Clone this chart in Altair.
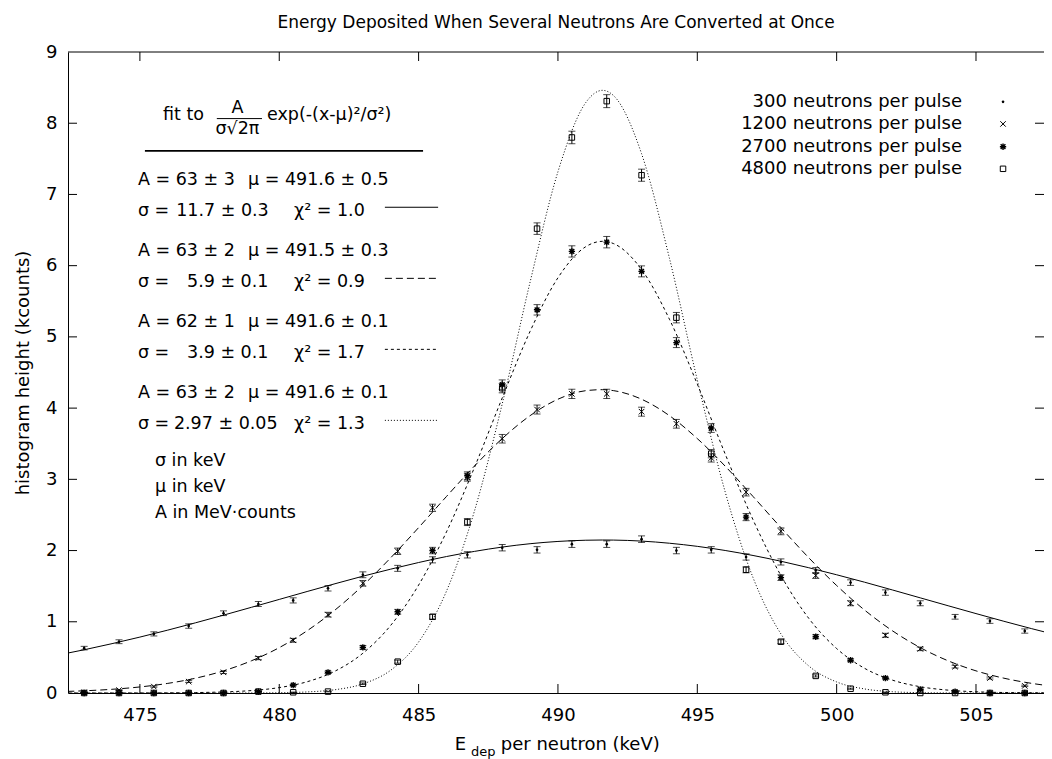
import altair as alt
import pandas as pd

FONT = "DejaVu Sans"
TITLE = "Energy Deposited When Several Neutrons Are Converted at Once"
Y_TITLE = "histogram height (kcounts)"
X_TITLE_PARTS = ["E", "dep", "per neutron (keV)"]

series_names = ["300", "1200", "2700", "4800"]
legend_labels = ["300 neutrons per pulse", "1200 neutrons per pulse",
                 "2700 neutrons per pulse", "4800 neutrons per pulse"]

# measured histogram points (kcounts)
x_pts = [473.0, 474.25, 475.5, 476.75, 478.0, 479.25, 480.5, 481.75, 483.0, 484.25,
         485.5, 486.75, 488.0, 489.25, 490.5, 491.75, 493.0, 494.25, 495.5, 496.75,
         498.0, 499.25, 500.5, 501.75, 503.0, 504.25, 505.5, 506.75]
y_300 = [0.63, 0.72, 0.83, 0.94, 1.12, 1.25, 1.30, 1.47, 1.66, 1.75, 1.87, 1.94, 2.04, 2.01,
         2.09, 2.09, 2.16, 2.00, 2.01, 1.91, 1.84, 1.72, 1.55, 1.41, 1.26, 1.07, 1.01, 0.87]
y_1200 = [0.01, 0.04, 0.09, 0.16, 0.29, 0.49, 0.74, 1.10, 1.54, 1.99, 2.60, 3.03, 3.57, 3.98,
          4.20, 4.20, 3.95, 3.78, 3.30, 2.82, 2.27, 1.65, 1.26, 0.81, 0.62, 0.37, 0.21, 0.10]
y_2700 = [0.0, 0.0, 0.0, 0.0, 0.0, 0.02, 0.11, 0.29, 0.64, 1.14, 2.00, 3.05, 4.33, 5.38,
          6.20, 6.33, 5.92, 4.92, 3.72, 2.47, 1.62, 0.79, 0.46, 0.21, 0.05, 0.02, 0.0, 0.0]
y_4800 = [0.0, 0.0, 0.0, 0.0, 0.0, 0.02, 0.01, 0.02, 0.13, 0.44, 1.07, 2.40, 4.28, 6.52,
          7.80, 8.31, 7.27, 5.27, 3.36, 1.73, 0.72, 0.24, 0.06, 0.01, 0.0, 0.0, 0.0, 0.0]
err_300 = [0.025, 0.027, 0.029, 0.031, 0.033, 0.035, 0.036, 0.038, 0.041, 0.042, 0.043, 0.044,
           0.045, 0.045, 0.046, 0.046, 0.046, 0.045, 0.045, 0.044, 0.043, 0.041, 0.039, 0.038,
           0.035, 0.033, 0.032, 0.030]
err_1200 = [0.003, 0.006, 0.009, 0.013, 0.017, 0.022, 0.027, 0.033, 0.039, 0.045, 0.051, 0.055,
            0.060, 0.063, 0.065, 0.065, 0.063, 0.061, 0.057, 0.053, 0.048, 0.041, 0.035, 0.028,
            0.025, 0.019, 0.014, 0.010]
err_2700 = [0.0, 0.0, 0.0, 0.0, 0.0, 0.004, 0.010, 0.017, 0.025, 0.034, 0.045, 0.055, 0.066,
            0.073, 0.079, 0.080, 0.077, 0.070, 0.061, 0.050, 0.040, 0.028, 0.021, 0.014, 0.007,
            0.004, 0.0, 0.0]
err_4800 = [0.0, 0.0, 0.0, 0.0, 0.0, 0.004, 0.003, 0.004, 0.011, 0.021, 0.033, 0.049, 0.065,
            0.081, 0.088, 0.091, 0.085, 0.073, 0.058, 0.042, 0.027, 0.015, 0.008, 0.003, 0.0,
            0.0, 0.0, 0.0]

# fitted curves
fit_x = [472, 473, 474, 475, 476, 477, 478, 479, 480, 481, 482, 483, 484, 485, 486, 487, 488,
         489, 490, 491, 491.6, 492, 493, 494, 495, 496, 497, 498, 499, 500, 501, 502, 503, 504,
         505, 506, 507, 508]
fit_300 = [0.528, 0.607, 0.693, 0.785, 0.883, 0.986, 1.093, 1.203, 1.314, 1.425, 1.534, 1.640,
           1.739, 1.832, 1.916, 1.988, 2.049, 2.096, 2.128, 2.145, 2.148, 2.147, 2.133, 2.103,
           2.059, 2.001, 1.931, 1.850, 1.759, 1.660, 1.556, 1.447, 1.336, 1.225, 1.115, 1.007,
           0.903, 0.804]
fit_1200 = [0.018, 0.031, 0.052, 0.085, 0.135, 0.208, 0.311, 0.452, 0.637, 0.874, 1.165, 1.509,
            1.899, 2.322, 2.759, 3.185, 3.572, 3.894, 4.125, 4.245, 4.259, 4.245, 4.125, 3.894,
            3.572, 3.185, 2.759, 2.322, 1.899, 1.509, 1.165, 0.874, 0.637, 0.452, 0.311, 0.208,
            0.135, 0.085]
fit_2700 = [0.0, 0.0, 0.0002, 0.0007, 0.002, 0.006, 0.015, 0.034, 0.076, 0.158, 0.307, 0.558,
            0.950, 1.515, 2.262, 3.163, 4.142, 5.078, 5.830, 6.267, 6.342, 6.309, 5.946, 5.248,
            4.337, 3.356, 2.432, 1.650, 1.048, 0.624, 0.347, 0.181, 0.088, 0.040, 0.017, 0.007,
            0.003, 0.001]
fit_4800 = [0.0, 0.0, 0.0, 0.0, 0.0, 0.0, 0.0002, 0.001, 0.004, 0.015, 0.046, 0.128, 0.320,
            0.716, 1.430, 2.550, 4.059, 5.769, 7.319, 8.291, 8.462, 8.386, 7.572, 6.105, 4.394,
            2.824, 1.620, 0.830, 0.380, 0.155, 0.057, 0.018, 0.005, 0.001, 0.0, 0.0, 0.0, 0.0]

# fit annotation texts
formula_lead = "fit to"
formula_num = "A"
formula_den = "σ√2π"
formula_exp = "exp(-(x-μ)²/σ²)"
fit_a_txt = ["A = 63 ± 3", "A = 63 ± 2", "A = 62 ± 1", "A = 63 ± 2"]
fit_mu_txt = ["μ = 491.6 ± 0.5", "μ = 491.5 ± 0.3", "μ = 491.6 ± 0.1", "μ = 491.6 ± 0.1"]
fit_sig_lbl = "σ ="
fit_sig_txt = ["11.7 ± 0.3", "5.9 ± 0.1", "3.9 ± 0.1", "2.97 ± 0.05"]
fit_chi_txt = ["χ² = 1.0", "χ² = 0.9", "χ² = 1.7", "χ² = 1.3"]
unit_notes = ["σ in keV", "μ in keV", "A in MeV·counts"]

x_ticks = [475, 480, 485, 490, 495, 500, 505]
y_ticks = [0, 1, 2, 3, 4, 5, 6, 7, 8, 9]

# ---------------- layout / style ----------------
X_DOM = [472.42, 507.44]
Y_DOM = [0, 9]
W, H = 976, 641
DASHES = {"300": None, "1200": [7, 4], "2700": [3, 3], "4800": [1, 2]}
X_PATH = "M-1,-1L1,1M-1,1L1,-1"
STAR_PATH = "M-1,0L1,0M0,-1L0,1M-0.75,-0.75L0.75,0.75M-0.75,0.75L0.75,-0.75"
TXT = 17.5
SIG_VAL_X = [476.30, 476.69, 476.69, 476.22]

X_SCALE = alt.Scale(domain=X_DOM, nice=False, zero=False)
Y_SCALE = alt.Scale(domain=Y_DOM, nice=False, zero=False)
X_AXIS = alt.Axis(values=x_ticks, ticks=False, grid=False, domainColor="black",
                  labelFont=FONT, labelFontSize=18, labelColor="black", labelPadding=13,
                  format="d")
Y_AXIS = alt.Axis(values=y_ticks, ticks=False, grid=False, domainColor="black",
                  labelFont=FONT, labelFontSize=18, labelColor="black", labelPadding=11,
                  title=Y_TITLE, titleFont=FONT, titleFontSize=18, titleFontWeight="normal",
                  titleColor="black", titlePadding=13, format="d")


def X(f):
    return alt.X(f"{f}:Q", scale=X_SCALE, axis=X_AXIS, title=None)


def Y(f):
    return alt.Y(f"{f}:Q", scale=Y_SCALE, axis=Y_AXIS)


ys_all = {"300": y_300, "1200": y_1200, "2700": y_2700, "4800": y_4800}
es_all = {"300": err_300, "1200": err_1200, "2700": err_2700, "4800": err_4800}
fits_all = {"300": fit_300, "1200": fit_1200, "2700": fit_2700, "4800": fit_4800}

layers = []

# fitted curves
for s in series_names:
    df = pd.DataFrame({"x": fit_x, "y": fits_all[s]})
    kw = dict(clip=True, interpolate="monotone", color="black", strokeWidth=1)
    if DASHES[s]:
        kw["strokeDash"] = DASHES[s]
    layers.append(alt.Chart(df).mark_line(**kw).encode(x=X("x"), y=Y("y")))

# error bars and markers
pts = pd.concat([
    pd.DataFrame({"series": s, "x": x_pts, "y": ys_all[s],
                  "lo": [a - b for a, b in zip(ys_all[s], es_all[s])],
                  "hi": [a + b for a, b in zip(ys_all[s], es_all[s])]})
    for s in series_names], ignore_index=True)
layers.append(alt.Chart(pts).mark_rule(color="black", strokeWidth=1, clip=True).encode(
    x=X("x"), y=Y("lo"), y2="hi:Q"))
for f in ["lo", "hi"]:
    layers.append(alt.Chart(pts).mark_tick(orient="horizontal", size=7, thickness=1,
                                           color="black", clip=True).encode(x=X("x"), y=Y(f)))


def markers(df, s):
    if s == "300":
        return alt.Chart(df).mark_circle(size=7, color="black", opacity=1)
    if s == "1200":
        return alt.Chart(df).mark_point(shape=X_PATH, size=30, filled=False, color="black",
                                        strokeWidth=1, opacity=1)
    if s == "2700":
        return alt.Chart(df).mark_point(shape=STAR_PATH, size=40, filled=False, color="black",
                                        strokeWidth=1.4, opacity=1)
    return alt.Chart(df).mark_point(shape="square", size=30, filled=False, color="black",
                                    strokeWidth=1, opacity=1)


for s in series_names:
    d = pts[pts.series == s]
    layers.append(markers(d, s).encode(x=X("x"), y=Y("y")))

# legend (top right)
LEG_X_TXT, LEG_X_MK = 504.5, 505.97
LEG_Y = [8.30, 7.99, 7.67, 7.36]
leg = pd.DataFrame({"x": LEG_X_TXT, "xm": LEG_X_MK, "y": LEG_Y, "t": legend_labels})
layers.append(alt.Chart(leg).mark_text(align="right", baseline="middle", font=FONT,
                                       fontSize=18, color="black").encode(
    x=X("x"), y=Y("y"), text="t:N"))
for i, s in enumerate(series_names):
    layers.append(markers(leg.iloc[[i]], s).encode(x=X("xm"), y=Y("y")))

# fit formula block
A_Y = [7.205, 6.208, 5.211, 4.213]
S_Y = [6.770, 5.772, 4.775, 3.778]
left_txt = pd.DataFrame(
    [{"x": 475.83, "y": 8.118, "t": formula_lead},
     {"x": 479.56, "y": 8.118, "t": formula_exp}]
    + [{"x": 474.93, "y": A_Y[i], "t": fit_a_txt[i]} for i in range(4)]
    + [{"x": 478.88, "y": A_Y[i], "t": fit_mu_txt[i]} for i in range(4)]
    + [{"x": 474.93, "y": S_Y[i], "t": fit_sig_lbl} for i in range(4)]
    + [{"x": SIG_VAL_X[i], "y": S_Y[i], "t": fit_sig_txt[i]} for i in range(4)]
    + [{"x": 480.53, "y": S_Y[i], "t": fit_chi_txt[i]} for i in range(4)]
    + [{"x": 475.54, "y": [3.258, 2.893, 2.528][i], "t": unit_notes[i]} for i in range(3)]
)
layers.append(alt.Chart(left_txt).mark_text(align="left", baseline="middle", font=FONT,
                                            fontSize=TXT, color="black").encode(
    x=X("x"), y=Y("y"), text="t:N"))
frac_txt = pd.DataFrame([{"x": 478.50, "y": 8.216, "t": formula_num},
                         {"x": 478.50, "y": 7.914, "t": formula_den}])
layers.append(alt.Chart(frac_txt).mark_text(align="center", baseline="middle", font=FONT,
                                            fontSize=TXT, color="black").encode(
    x=X("x"), y=Y("y"), text="t:N"))
rules = pd.DataFrame([{"x": 477.76, "x2": 479.38, "y": 8.065, "w": 1.0},
                      {"x": 475.18, "x2": 485.16, "y": 7.612, "w": 1.6}])
layers.append(alt.Chart(rules).mark_rule(color="black").encode(
    x=X("x"), x2="x2:Q", y=Y("y"), strokeWidth=alt.StrokeWidth("w:Q", scale=None)))
# line-style samples
for i, s in enumerate(series_names):
    d = pd.DataFrame({"x": [483.79], "x2": [485.70], "y": [S_Y[i] + 0.05]})
    kw = dict(color="black", strokeWidth=1)
    if DASHES[s]:
        kw["strokeDash"] = DASHES[s]
    layers.append(alt.Chart(d).mark_rule(**kw).encode(x=X("x"), x2="x2:Q", y=Y("y")))

# x-axis title with subscript
xt = pd.DataFrame([{"x": 486.30, "t": X_TITLE_PARTS[0]}])
xs_ = pd.DataFrame([{"x": 486.88, "t": X_TITLE_PARTS[1]}])
xr = pd.DataFrame([{"x": 487.95, "t": X_TITLE_PARTS[2]}])
layers.append(alt.Chart(xt).mark_text(align="left", baseline="middle", font=FONT, fontSize=18,
                                      color="black").encode(x=X("x"), y=alt.value(H + 52),
                                                            text="t:N"))
layers.append(alt.Chart(xs_).mark_text(align="left", baseline="middle", font=FONT, fontSize=13,
                                       color="black").encode(x=X("x"), y=alt.value(H + 59),
                                                             text="t:N"))
layers.append(alt.Chart(xr).mark_text(align="left", baseline="middle", font=FONT, fontSize=18,
                                      color="black").encode(x=X("x"), y=alt.value(H + 52),
                                                            text="t:N"))

# inward tick marks (gnuplot style) and top border
TK_X = 9 / W * (X_DOM[1] - X_DOM[0])
TK_Y = 9 / H * (Y_DOM[1] - Y_DOM[0])
yt = pd.DataFrame([{"x": X_DOM[0], "x2": X_DOM[0] + TK_X, "y": v} for v in y_ticks[1:-1]]
                  + [{"x": X_DOM[1] - TK_X, "x2": X_DOM[1], "y": v} for v in y_ticks[1:-1]])
layers.append(alt.Chart(yt).mark_rule(color="black", strokeWidth=1).encode(
    x=X("x"), x2="x2:Q", y=Y("y")))
xtk = pd.DataFrame([{"x": v, "y": Y_DOM[0], "y2": Y_DOM[0] + TK_Y} for v in x_ticks]
                   + [{"x": v, "y": Y_DOM[1] - TK_Y, "y2": Y_DOM[1]} for v in x_ticks])
layers.append(alt.Chart(xtk).mark_rule(color="black", strokeWidth=1).encode(
    x=X("x"), y=Y("y"), y2="y2:Q"))
top = pd.DataFrame([{"x": X_DOM[0], "x2": X_DOM[1], "y": Y_DOM[1]}])
layers.append(alt.Chart(top).mark_rule(color="black", strokeWidth=1).encode(
    x=X("x"), x2="x2:Q", y=Y("y")))

chart = alt.layer(*layers).properties(
    width=W, height=H,
    autosize=alt.AutoSizeParams(type="none"),
    padding={"left": 60, "top": 44, "right": 0, "bottom": 68},
    title=alt.TitleParams(TITLE, font=FONT, fontSize=17, fontWeight="normal", color="black",
                          anchor="middle", frame="group", offset=11),
    background="white",
).configure_view(stroke="transparent")

chart.save("out.html", embed_options={"renderer": "svg", "actions": False})
